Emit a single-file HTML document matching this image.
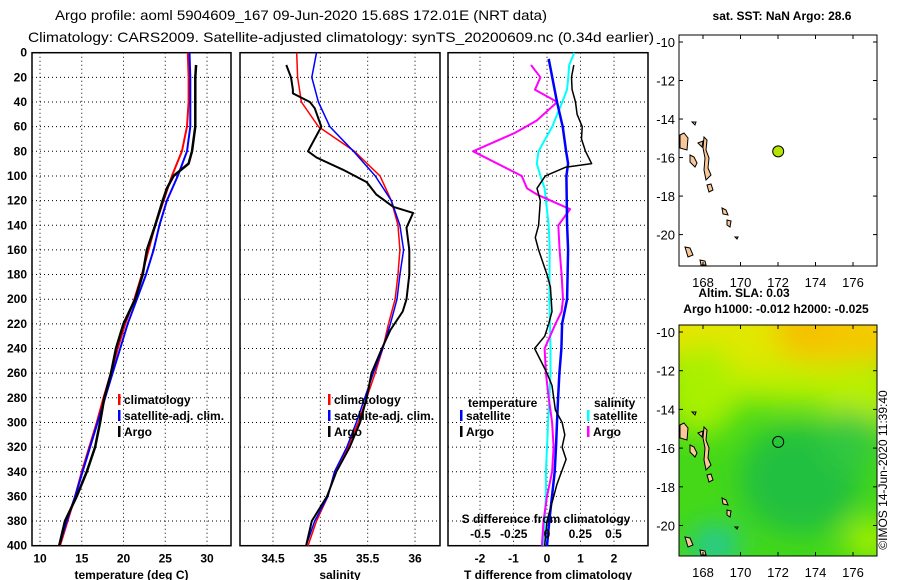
<!DOCTYPE html>
<html><head><meta charset="utf-8"><style>
html,body{margin:0;padding:0;background:#fff}
svg{display:block}
text{font-family:"Liberation Sans",sans-serif;font-weight:bold;font-size:12px;fill:#000}
.tt{font-family:"Liberation Sans Narrow","Liberation Sans",sans-serif;font-weight:normal;font-size:14px}
</style></head><body>
<svg id="chart" width="900" height="580" viewBox="0 0 900 580">
<defs>
<filter id="blur" x="-50%" y="-50%" width="200%" height="200%"><feGaussianBlur stdDeviation="14"/></filter>
<clipPath id="m2clip"><rect x="679" y="325" width="198" height="231"/></clipPath>
</defs>
<text class="tt" x="301" y="20" text-anchor="middle" textLength="492" lengthAdjust="spacingAndGlyphs">Argo profile: aoml 5904609_167 09-Jun-2020 15.68S 172.01E (NRT data)</text>
<text class="tt" x="341" y="42" text-anchor="middle" textLength="626" lengthAdjust="spacingAndGlyphs">Climatology: CARS2009. Satellite-adjusted climatology: synTS_20200609.nc (0.34d earlier)</text>
<g id="panels"></g>
<g id="maps"></g>
<text x="887" y="470" transform="rotate(-90 887 470)" text-anchor="middle" style="font-weight:normal;font-size:12px">©IMOS 14-Jun-2020 11:39:40</text>
</svg>
<script>
// ---- data ----
const depthTicks = [0,20,40,60,80,100,120,140,160,180,200,220,240,260,280,300,320,340,360,380,400];
const tempTicks = [10,15,20,25,30];
const salTicks = [34.5,35,35.5,36];
const tdTicks = [-2,-1,0,1,2];
const sdTicks = [-0.5,-0.25,0,0.25,0.5];
const sdTickLabels = ['-0.5','-0.25','0','0.25','0.5'];
const latTicks = [-10,-12,-14,-16,-18,-20];
const lonTicks = [168,170,172,174,176];

const stdDepth = [0,20,40,60,80,100,120,140,160,180,200,220,240,260,280,300,320,340,360,380,400];
const tempClim = [27.7,27.8,27.8,27.6,27.0,25.8,24.8,23.8,23.0,22.2,21.3,20.2,19.3,18.5,17.6,16.8,15.9,15.0,14.2,13.3,12.4];
const tempSat  = [27.9,28.0,28.0,28.0,27.6,26.5,25.2,24.3,23.6,22.7,21.6,20.5,19.6,18.7,17.8,16.9,16.0,15.1,14.2,13.2,12.3];
const argoTDepth = [10,20,40,60,80,90,100,110,120,140,160,180,200,220,240,260,280,300,320,340,360,380,400];
const tempArgo = [28.7,28.6,28.6,28.6,28.2,27.8,26.0,25.2,24.7,23.8,22.8,22.3,21.4,20.0,19.1,18.5,17.7,17.2,16.6,15.6,14.4,13.0,12.3];

const salClim = [34.75,34.76,34.80,34.98,35.36,35.63,35.75,35.82,35.84,35.82,35.79,35.72,35.66,35.58,35.49,35.40,35.29,35.15,35.08,34.96,34.87];
const salSat  = [34.96,34.91,34.98,35.10,35.35,35.58,35.75,35.84,35.88,35.84,35.81,35.74,35.66,35.56,35.47,35.38,35.28,35.15,35.08,34.94,34.85];
const argoSDepth = [10,20,30,33,40,45,60,80,85,95,105,115,125,130,142,160,180,200,210,225,240,260,280,300,320,340,360,380,400];
const salArgo = [34.64,34.69,34.71,34.71,34.89,34.94,35.01,34.87,34.96,35.24,35.49,35.59,35.77,35.98,35.91,35.94,35.94,35.91,35.87,35.74,35.65,35.54,35.49,35.42,35.31,35.17,35.07,34.91,34.85];

const tdSatDepth = [5,40,60,80,90,100,140,160,200,220,240,260,280,300,320,340,360,380,400];
const tdSat = [0.05,0.30,0.47,0.57,0.63,0.58,0.60,0.63,0.60,0.45,0.43,0.37,0.33,0.30,0.27,0.23,0.15,0.07,0.0];
const tdArgoDepth = [10,20,30,40,50,60,70,80,90,93,100,110,120,140,150,160,180,190,210,220,230,240,260,270,290,300,310,320,330,350,360,380,400];
const tdArgo = [0.80,0.73,0.75,0.85,0.90,1.05,1.03,1.15,1.33,0.55,-0.05,-0.30,-0.20,-0.25,-0.35,-0.25,0.0,0.10,0.15,0.05,-0.07,-0.37,0.0,0.15,0.25,0.45,0.53,0.45,0.57,0.30,0.20,0.0,-0.07];
const sdSatDepth = [0,10,20,30,40,50,60,70,80,90,100,110,120,140,160,200,240,260,280,300,320,340,360,380,400];
const sdSat = [0.205,0.167,0.16,0.15,0.115,0.077,0.04,-0.013,-0.064,-0.077,-0.05,-0.018,-0.008,0.013,0.02,0.018,0.026,0.026,0.018,0.008,0.0,-0.008,-0.008,-0.018,-0.026];
const sdArgoDepth = [10,20,30,40,55,65,80,100,110,115,127,140,160,180,200,210,220,240,260,280,300,320,340,360,380,400];
const sdArgo = [-0.12,-0.05,-0.09,0.077,-0.077,-0.24,-0.556,-0.19,-0.15,-0.077,0.174,0.085,0.095,0.11,0.12,0.11,0.064,-0.018,-0.008,0.013,0.038,0.05,0.038,0.0,-0.026,-0.038];

const argoLon = [172.01];
const argoLat = [-15.68];

// ---- helpers ----
const NS='http://www.w3.org/2000/svg';
function mk(tag, attrs, parent){const e=document.createElementNS(NS,tag);for(const k in attrs)e.setAttribute(k,attrs[k]);parent.appendChild(e);return e;}
const P=document.getElementById('panels');
const Y0=52.7, YS=1.2325;
const yD = d => Y0 + d*YS;
const panels=[
 {x0:32,x1:231,lo:10,hi:30,px0:40,px1:207,name:'temperature-panel'},
 {x0:240,x1:440,lo:34.5,hi:36,px0:273,px1:415,name:'salinity-panel'},
 {x0:448,x1:648,lo:-2,hi:2,px0:480,px1:614,name:'difference-panel'}];
const xT = v => 40 + (v-10)*(207-40)/20;
const xS = v => 273 + (v-34.5)*(415-273)/1.5;
const xTD = v => 547 + v*33.5;
const xSD = v => 547 + v*133;

function frame(p, ticks, xf, labels, title){
  const g=mk('g',{},P);
  
  
  depthTicks.forEach(d=>{ if(d>0&&d<400){const l=mk('line',{x1:p.x0,x2:p.x1,y1:yD(d),y2:yD(d),stroke:'#000','stroke-width':1,'stroke-dasharray':'1,3'},g);
    
    }});
  ticks.forEach((t,i)=>{const x=xf(t);
    const l=mk('line',{x1:x,x2:x,y1:Y0,y2:yD(400),stroke:'#000','stroke-width':1,'stroke-dasharray':'1,3'},g);
    
    
    const tx=mk('text',{x:x,y:yD(400)+17,'text-anchor':'middle'},g);tx.textContent=labels?labels[i]:String(t);
    
    });
  const r=mk('rect',{x:p.x0,y:Y0,width:p.x1-p.x0,height:yD(400)-Y0,fill:'none',stroke:'#000','stroke-width':1.5},g);
  
  
  const t=mk('text',{x:(p.x0+p.x1)/2,y:579,'text-anchor':'middle'},g);t.textContent=title;
  
  
  return g;
}
function line(g, depths, vals, xf, color, w, name){
  const pts=depths.map((d,i)=>xf(vals[i]).toFixed(1)+','+yD(d).toFixed(1)).join(' ');
  const pl=mk('polyline',{points:pts,fill:'none',stroke:color,'stroke-width':w,'stroke-linejoin':'round'},g);
  
  
}
function legend(g,x,y,color,label,name){
  mk('rect',{x:x,y:y-8,width:2.5,height:11,fill:color},g);
  const t=mk('text',{x:x+6,y:y+2},g);t.textContent=label;
  
  
}
// depth labels
depthTicks.forEach(d=>{const t=mk('text',{x:27,y:yD(d)+4,'text-anchor':'end'},P);t.textContent=d;
  
  });

const g1=frame(panels[0],tempTicks,xT,null,'temperature (deg C)');
line(g1,stdDepth,tempClim,xT,'#ff0000',2,'temp-climatology-line');
line(g1,stdDepth,tempSat,xT,'#0000ff',2,'temp-satellite-line');
line(g1,argoTDepth,tempArgo,xT,'#000',2.5,'temp-argo-line');
legend(g1,118,402,'#ff0000','climatology','legend-climatology');
legend(g1,118,418,'#0000ff','satellite-adj. clim.','legend-satellite');
legend(g1,118,434,'#000','Argo','legend-argo');

const g2=frame(panels[1],salTicks,xS,null,'salinity');
line(g2,stdDepth,salClim,xS,'#ff0000',1.5,'sal-climatology-line');
line(g2,stdDepth,salSat,xS,'#0000ff',1.5,'sal-satellite-line');
line(g2,argoSDepth,salArgo,xS,'#000',2,'sal-argo-line');
legend(g2,328,402,'#ff0000','climatology','legend-climatology');
legend(g2,328,418,'#0000ff','satellite-adj. clim.','legend-satellite');
legend(g2,328,434,'#000','Argo','legend-argo');

const g3=frame(panels[2],tdTicks,xTD,null,'T difference from climatology');
line(g3,sdSatDepth,sdSat,xSD,'#00ffff',2,'sal-diff-satellite-line');
line(g3,sdArgoDepth,sdArgo,xSD,'#ff00ff',2,'sal-diff-argo-line');
line(g3,tdSatDepth,tdSat,xTD,'#0000ff',2.5,'temp-diff-satellite-line');
line(g3,tdArgoDepth,tdArgo,xTD,'#000',1.5,'temp-diff-argo-line');
[['temperature',468,403],['salinity',594,403]].forEach(a=>{const t=mk('text',{x:a[1],y:a[2]+4},g3);t.textContent=a[0];
  
  });
legend(g3,460,418,'#0000ff','satellite','legend-temp-satellite');
legend(g3,460,434,'#000','Argo','legend-temp-argo');
legend(g3,587,418,'#00ffff','satellite','legend-sal-satellite');
legend(g3,587,434,'#ff00ff','Argo','legend-sal-argo');
const sdt=mk('text',{x:546,y:523,'text-anchor':'middle'},g3);sdt.textContent='S difference from climatology';


sdTicks.forEach((v,i)=>{const t=mk('text',{x:xSD(v),y:538,'text-anchor':'middle'},g3);t.textContent=sdTickLabels[i];
  
  });

// ---- maps ----
const M=document.getElementById('maps');
const mapLonX = v => 703 + (v-168)*18.75;
const islands=[
 [[680,135],[684,133],[688,138],[687,150],[680,148]],
 [[690,155],[694,157],[697,163],[695,167],[690,162]],
 [[698,143],[703,141],[702,147]],
 [[704,137],[707,140],[706,150],[709,158],[708,168],[711,175],[706,180],[704,170],[705,158],[703,148]],
 [[707,185],[711,184],[713,190],[709,192]],
 [[722,208],[726,210],[728,215],[723,214]],
 [[727,220],[731,221],[730,227],[727,225]],
 [[735,237],[738,237],[737,239]],
 [[685,247],[690,248],[693,255],[688,257]],
 [[700,260],[705,261],[706,265],[701,265]],
 [[692,122],[696,122],[695,125]]];
function map(top, latY0, latS, name, bg){
  const g=mk('g',{},M);
  
  
  const latY = v => latY0 + (-10 - v)*latS;
  if(bg){
    mk('rect',{x:679,y:top,width:198,height:231,fill:'#44d818'},g);
    const bgG=mk('g',{'clip-path':'url(#m2clip)'},g);
    const blobs=bgG.appendChild(document.createElementNS(NS,'g'));
    blobs.setAttribute('filter','url(#blur)');
    [[780,330,140,55,'#e8e400'],[820,330,50,30,'#f4c000'],[740,340,40,25,'#e0e800'],[860,340,40,30,'#f4c800'],
     [700,390,40,45,'#a8f000'],[790,385,70,20,'#b8f000'],[860,395,40,35,'#b8f000'],
     [800,480,60,55,'#20c040'],[850,440,30,30,'#30c840'],[715,545,25,20,'#20c8a0'],[870,540,25,20,'#a8f000']
    ].forEach(b=>mk('ellipse',{cx:b[0],cy:b[1],rx:b[2],ry:b[3],fill:b[4]},blobs));
  }
  islands.forEach(isl=>{const pts=isl.map(p=>p[0]+','+(p[1]-35+top)).join(' ');
    const pg=mk('polygon',{points:pts,fill:'#f8c898',stroke:'#000','stroke-width':1},g);
    
    });
  const r=mk('rect',{x:679,y:top,width:198,height:231,fill:'none',stroke:'#000','stroke-width':1},g);
  
  
  latTicks.forEach(v=>{const y=latY(v);
    mk('line',{x1:679,x2:683,y1:y,y2:y,stroke:'#000'},g);mk('line',{x1:873,x2:877,y1:y,y2:y,stroke:'#000'},g);
    const t=mk('text',{x:675,y:y+5,'text-anchor':'end',style:'font-weight:normal;font-size:13px'},g);t.textContent=v;
    
    });
  lonTicks.forEach(v=>{const x=mapLonX(v);
    mk('line',{x1:x,x2:x,y1:top,y2:top+4,stroke:'#000'},g);mk('line',{x1:x,x2:x,y1:top+227,y2:top+231,stroke:'#000'},g);
    const t=mk('text',{x:x,y:top+252,'text-anchor':'middle',style:'font-weight:normal;font-size:13px'},g);t.textContent=v;
    
    });
  argoLon.forEach((lo,i)=>{const c=mk('circle',{cx:mapLonX(lo),cy:latY(argoLat[i]),r:5.5,fill:bg?'none':'#b4e400',stroke:'#000','stroke-width':1},g);
    
    });
}
map(35,42,19.26,'sst-map',false);
map(325,332,19.35,'sla-map',true);
[['sat. SST: NaN Argo: 28.6',782,20,'sst-title'],['Altim. SLA: 0.03',744,297,'sla-value'],['Argo h1000: -0.012 h2000: -0.025',776,313,'sla-title']].forEach(a=>{
  const t=mk('text',{x:a[1],y:a[2],'text-anchor':'middle'},M);t.textContent=a[0];
  
  });
</script>
</body></html>
